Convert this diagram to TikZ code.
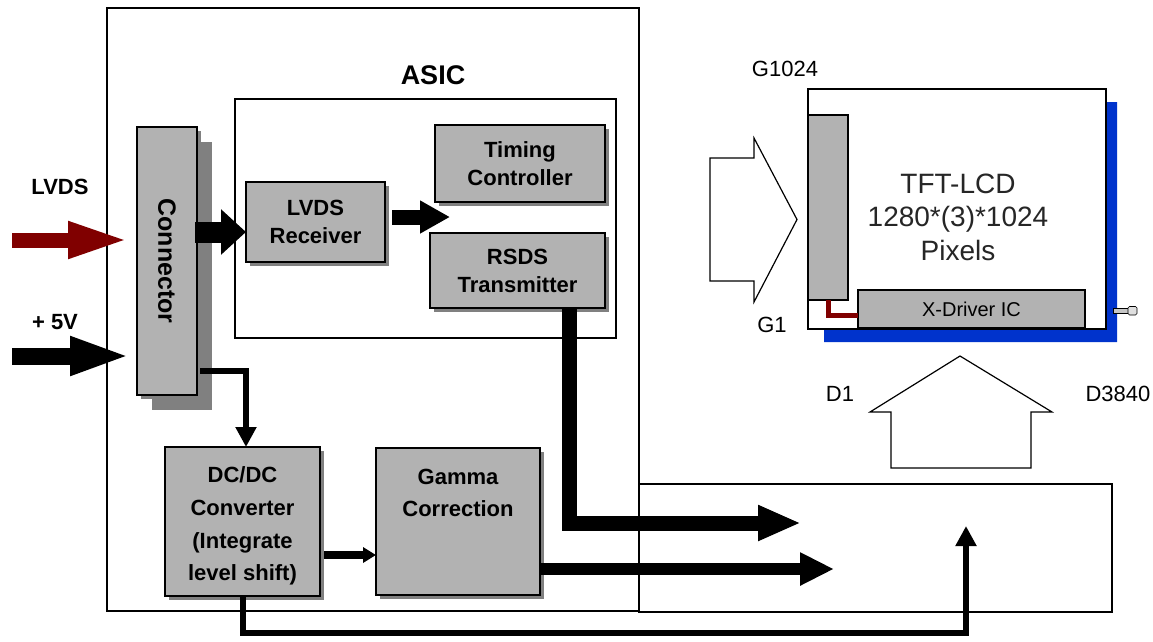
\documentclass[tikz,border=0pt]{standalone}
\usepackage{fontspec}
\setmainfont{Liberation Sans}
\usetikzlibrary{arrows.meta,calc}
\definecolor{boxgray}{HTML}{B2B2B2}
\definecolor{shadowgray}{HTML}{808080}
\definecolor{lcdblue}{HTML}{0033CC}
\definecolor{darkred}{HTML}{800000}
\begin{document}
\begin{tikzpicture}[x=1pt,y=-1pt,
  frame/.style={draw, line width=1.3pt, inner sep=0pt, outer sep=0pt, anchor=north west},
  graybox/.style={draw, line width=1.2pt, fill=boxgray, inner sep=0pt, outer sep=0pt,
    anchor=north west, align=center, font=\bfseries\fontsize{22}{28}\selectfont,
    preaction={fill=shadowgray, transform canvas={xshift=4pt,yshift=-4pt}}},
  bigshadow/.style={preaction={fill=shadowgray, transform canvas={xshift=15pt,yshift=-15pt}}},
  plainbox/.style={draw, line width=1.2pt, inner sep=0pt, outer sep=0pt, anchor=north west},
  blbl/.style={font=\bfseries\fontsize{22}{26}\selectfont, inner sep=0pt},
  rlbl/.style={font=\fontsize{22}{26}\selectfont, inner sep=0pt},
  hollow/.style={draw, line width=1.2pt, fill=white, line join=miter},
]
\useasboundingbox (0,0) rectangle (1153,641);

% frames
\node[frame, minimum width=532pt, minimum height=603pt] (asic) at (107,8) {};
\node[frame, minimum width=381pt, minimum height=239pt] (inner) at (235,99) {};
\node[frame, minimum width=473pt, minimum height=128pt] (panelbox) at (639,484) {};
\node[font=\bfseries\fontsize{27}{30}\selectfont, inner sep=0pt] (asiclbl) at (433,75) {ASIC};

% gray boxes
\node[graybox, bigshadow, minimum width=60pt, minimum height=268pt] (conn) at (137,127) {};
\node[font=\bfseries\fontsize{25}{28}\selectfont, inner sep=0pt, rotate=-90] (conntxt) at (conn.center) {Connector};
\node[graybox, minimum width=139pt, minimum height=80pt] (lvdsrx) at (246,182) {LVDS\\Receiver};
\node[graybox, minimum width=170pt, minimum height=77pt] (timing) at (435,125) {Timing\\Controller};
\node[graybox, minimum width=175pt, minimum height=75pt] (rsds) at (430,233) {RSDS\\Transmitter};
\node[graybox, minimum width=155pt, minimum height=149pt] (dcdc) at (165,447) {};
\node[blbl, align=center, font=\bfseries\fontsize{22}{32.6}\selectfont] (dcdctxt) at (242.5,526) {DC/DC\\Converter\\(Integrate\\level shift)};
\node[graybox, minimum width=164pt, minimum height=147pt] (gamma) at (376,448) {};
\node[blbl, align=center, font=\bfseries\fontsize{22}{32}\selectfont] (gammatxt) at (458,493) {Gamma\\Correction};

% input labels
\node[blbl] (lvdslbl) at (60,187) {LVDS};
\node[blbl] (pwrlbl) at (55,322) {+ 5V};

% LCD panel
\fill[lcdblue] (1104,102) -- (1117,102) -- (1117,342) -- (824,342) -- (824,328) -- (1104,328) -- cycle;
\node[plainbox, fill=white, minimum width=298pt, minimum height=240pt] (lcd) at (808,89) {};
\node[plainbox, fill=boxgray, minimum width=40pt, minimum height=185pt] (gate) at (808,115) {};
\node[plainbox, fill=boxgray, minimum width=227pt, minimum height=38pt, anchor=north west,
  font=\fontsize{20}{24}\selectfont] (xdrv) at (858,290) {X-Driver IC};
\draw[darkred, line width=5pt, line join=miter] (gate.south) |- ([yshift=-6pt]xdrv.west);
\draw[line width=0.6pt, fill=gray!45] (1113,308) rectangle (1128,313);
\draw[line width=0.6pt, fill=gray!25, rounded corners=1.5pt] (1128,306.5) rectangle (1137,315);
\node[font=\fontsize{28}{33.5}\selectfont, align=center, inner sep=0pt, text=black!85] (lcdtxt) at (958,217) {TFT-LCD\\1280*(3)*1024\\Pixels};
\node[rlbl] (g1024) at (785,69) {G1024};
\node[rlbl] (g1) at (772,325) {G1};
\node[rlbl] (d1) at (840,394) {D1};
\node[rlbl] (d3840) at (1118,394) {D3840};

% hollow arrows
\draw[hollow] (710,158) -- (754,158) -- (754,138) -- (797,219.5) -- (754,302) -- (754,281) -- (710,281) -- cycle;
\draw[hollow] (891,468) -- (891,412) -- (870,412) -- (960,356) -- (1052,412) -- (1031,412) -- (1031,468) -- cycle;

% coordinates
\coordinate (lvdsin) at (12,240);
\coordinate (lvdstip) at (130,240);
\coordinate (pwrin) at (12,356);
\coordinate (pwrtip) at (131,356);
\coordinate (rxin) at ([yshift=-10pt]lvdsrx.west);
\coordinate (midtip) at (450,217);
\coordinate (rsdsout) at ([xshift=51.5pt]rsds.south);
\coordinate (rsdstip) at (801,523);
\coordinate (gammatip) at (834,569);
\coordinate (gout) at (gamma.east |- gammatip);
\coordinate (dcy) at (0,555);
\coordinate (pwrout) at (conn.east |- 0,371);
\coordinate (dcin) at ([xshift=3.5pt]dcdc.north);
\coordinate (bottomy) at (0,633);
\coordinate (paneltip) at (966,526);

% connectors
\draw[darkred, line width=15pt, -{Triangle[length=62pt,width=33pt]}] (lvdsin) -- (lvdstip);
\draw[black, line width=17pt, -{Triangle[length=61pt,width=35pt]}] (pwrin) -- (pwrtip);
\draw[line width=21pt, -{Triangle[length=25pt,width=44pt]}] ([xshift=-2pt]conn.east |- rxin) -- (rxin);
\draw[line width=15pt, -{Triangle[length=30pt,width=31pt]}] ([xshift=7pt]lvdsrx.east |- midtip) -- (midtip);
\draw[line width=15pt, line join=miter, -{Triangle[length=43pt,width=33pt]}] (rsdsout) |- (rsdstip);
\draw[line width=12pt, -{Triangle[length=34pt,width=31pt]}] (gout) -- (gammatip);
\draw[line width=8pt, -{Triangle[length=13pt,width=15pt]}] ([xshift=4pt]dcdc.east |- dcy) -- (gamma.west |- dcy);
\draw[line width=6pt, line join=miter, -{Triangle[length=20pt,width=20pt]}] ([xshift=3pt]pwrout) -| (dcin);
\draw[line width=6pt, line join=miter, -{Triangle[length=20pt,width=20pt]}] (dcdc.south) -- (dcdc.south |- bottomy) -| (paneltip);
\end{tikzpicture}
\end{document}
